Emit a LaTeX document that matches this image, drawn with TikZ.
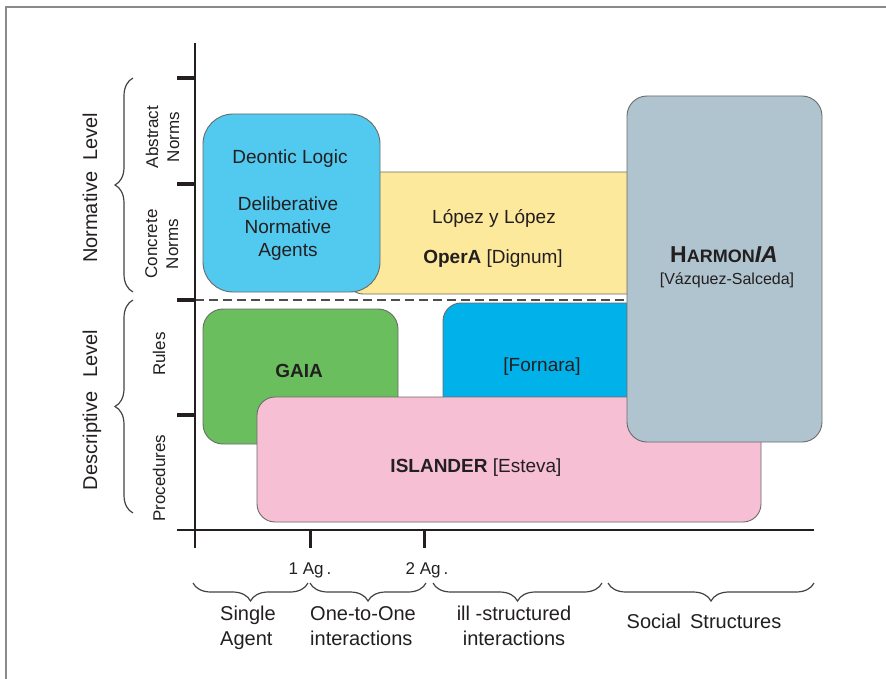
\documentclass[tikz,border=0pt]{standalone}
\usepackage{fontspec}
\setmainfont{Liberation Sans}
\usetikzlibrary{decorations.pathreplacing}
\definecolor{txt}{HTML}{231F20}
\definecolor{boxline}{HTML}{6A6A6A}
\definecolor{cDeontic}{HTML}{52C9EF}
\definecolor{cYellow}{HTML}{FDE99B}
\definecolor{cHarm}{HTML}{AFC4CF}
\definecolor{cGreen}{HTML}{6BBE5D}
\definecolor{cForn}{HTML}{00B2E9}
\definecolor{cPink}{HTML}{F6BFD3}
\definecolor{frameg}{HTML}{8A8A8A}
\tikzset{
  boxshape/.style={draw=boxline, line width=0.9pt, inner sep=0pt, outer sep=0pt, anchor=north west},
  lbl/.style={text=txt, inner sep=0pt, font=\fontsize{19}{23}\selectfont, align=center},
  sidelbl/.style={text=txt, inner sep=0pt, rotate=90, anchor=base, font=\fontsize{17}{21}\selectfont, align=center},
  levellbl/.style={text=txt, inner sep=0pt, rotate=90, anchor=base, font=\fontsize{20}{24}\selectfont},
  botlbl/.style={text=txt, inner sep=0pt, font=\fontsize{20}{25}\selectfont},
  agl/.style={text=txt, inner sep=0pt, anchor=base, font=\fontsize{17}{20}\selectfont},
  bracel/.style={draw=txt!85, line width=1.2pt, decorate, decoration={brace, amplitude=18pt}},
  tickm/.style={draw=txt, line width=3.5pt},
  axisl/.style={draw=txt, line width=1.4pt}
}
\begin{document}
\begin{tikzpicture}[x=1pt,y=-1pt]
\useasboundingbox (0,0) rectangle (886,679);
% frame
\draw[frameg, line width=2pt] (886,7) -- (6,7) -- (6,679);

% boxes
\node[boxshape, fill=cYellow, rounded corners=15pt, minimum width=302pt, minimum height=122pt] (yellow) at (348,172) {};
\node[boxshape, fill=cDeontic, rounded corners=30pt, minimum width=177pt, minimum height=178pt] (deontic) at (203,114) {};
\node[boxshape, fill=cGreen, rounded corners=20pt, minimum width=195pt, minimum height=135pt] (gaia) at (203,309) {};
\node[boxshape, fill=cForn, rounded corners=18pt, minimum width=220pt, minimum height=120pt] (fornara) at (443,303) {};
\node[boxshape, fill=cPink, rounded corners=18pt, minimum width=504pt, minimum height=125pt] (islander) at (257,397) {};

% dashed separator
\coordinate (dashA) at (195,300);
\coordinate (dashB) at (628,300);
\draw[txt!80, line width=1.2pt, dash pattern=on 9pt off 5pt] (dashA) -- (dashB);

\node[boxshape, fill=cHarm, rounded corners=20pt, minimum width=195pt, minimum height=346pt] (harm) at (627,96) {};

% box texts
\node[lbl, anchor=base] (tDeon) at (290,164) {Deontic Logic};
\node[lbl, anchor=base] (tDel) at (288,256) {Deliberative\\Normative\\Agents};
\node[lbl, anchor=base] (tLopez) at (494,224) {López y López};
\node[lbl, anchor=base] (tOpera) at (493,263) {\textbf{OperA} [Dignum]};
\node[lbl, anchor=base] (tHarm) at (724,262) {\bfseries\fontsize{23}{26}\selectfont H{\fontsize{18}{20}\selectfont ARMON}\textit{IA}};
\node[lbl, anchor=base, font=\fontsize{16}{19}\selectfont] (tVaz) at (727,284) {[Vázquez-Salceda]};
\node[lbl, anchor=base] (tGaia) at (299,377) {\textbf{GAIA}};
\node[lbl, anchor=base] (tForn) at (542,371) {[Fornara]};
\node[lbl, anchor=base] (tIsl) at (476,472) {\textbf{ISLANDER} [Esteva]};

% axes
\coordinate (yTop) at (195,43);
\coordinate (yBot) at (195,548);
\coordinate (xL) at (177,530);
\coordinate (xR) at (814,530);
\draw[axisl] (yTop) -- (yBot);
\draw[axisl] (xL) -- (xR);
\foreach \yy/\nm in {78/ta,184/tb,300/tc,415/td}{
  \coordinate (\nm1) at (177,\yy);
  \coordinate (\nm2) at (195,\yy);
  \draw[tickm] (\nm1) -- (\nm2);
}
\foreach \xx/\nm in {310/xa,424/xb}{
  \coordinate (\nm1) at (\xx,530);
  \coordinate (\nm2) at (\xx,548);
  \draw[tickm, line width=3pt] (\nm1) -- (\nm2);
}
\node[agl] (ag1) at (310,574) {1 Ag\,.};
\node[agl] (ag2) at (427,574) {2 Ag\,.};

% left side labels
\node[levellbl] (normL) at (97,188) {Normative\hspace{0.55em}Level};
\node[levellbl] (descL) at (97,410) {Descriptive\hspace{0.7em}Level};
\node[sidelbl] (abs) at (179,137) {Abstract\\Norms};
\node[sidelbl] (con) at (178,244) {Concrete\\Norms};
\node[sidelbl] (rul) at (165,354) {Rules};
\node[sidelbl] (pro) at (165,478) {Procedures};

% left braces
\coordinate (bn1) at (133,292);
\coordinate (bn2) at (133,78);
\coordinate (bd1) at (133,513);
\coordinate (bd2) at (133,300);
\draw[bracel] (bn1) -- (bn2);
\draw[bracel] (bd1) -- (bd2);

% bottom braces
\coordinate (bb1a) at (308,583); \coordinate (bb1b) at (193,583);
\coordinate (bb2a) at (426,583); \coordinate (bb2b) at (310,583);
\coordinate (bb3a) at (602,583); \coordinate (bb3b) at (433,583);
\coordinate (bb4a) at (814,583); \coordinate (bb4b) at (608,583);
\draw[bracel] (bb1a) -- (bb1b);
\draw[bracel] (bb2a) -- (bb2b);
\draw[bracel] (bb3a) -- (bb3b);
\draw[bracel] (bb4a) -- (bb4b);

% bottom labels
\node[botlbl, anchor=base west, align=left] (single) at (220,645) {Single\\Agent};
\node[botlbl, anchor=base west, align=left] (onetoone) at (310,645) {One-to-One\\interactions};
\node[botlbl, anchor=base, align=center] (ill) at (514,645) {ill -structured\\interactions};
\node[botlbl, anchor=base] (social) at (704,628) {Social\hspace{0.45em}Structures};
\end{tikzpicture}
\end{document}
